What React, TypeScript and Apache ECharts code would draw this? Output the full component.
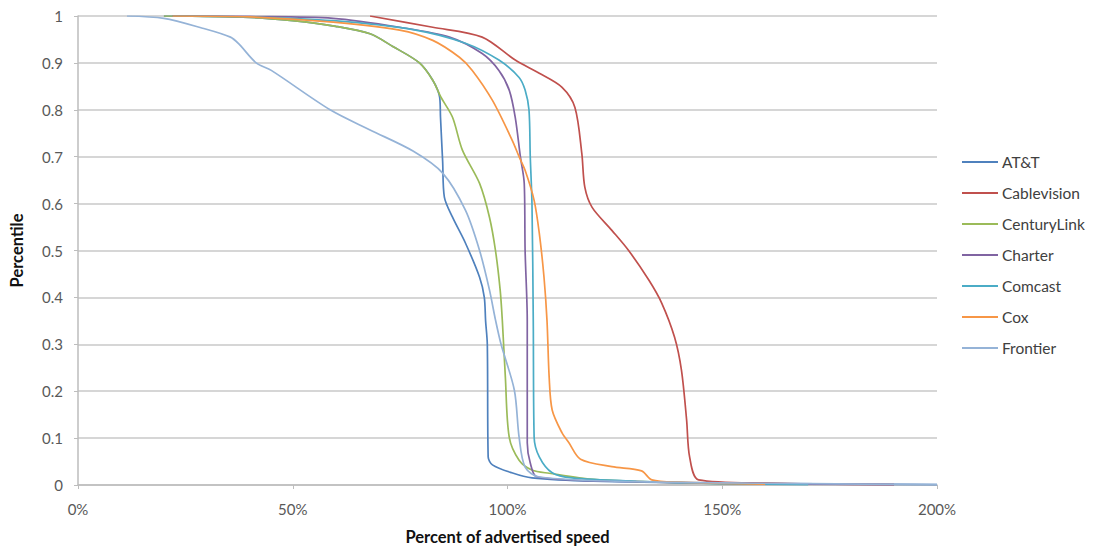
import React, { useEffect, useRef } from "react";
import * as echarts from "echarts";

const seriesNames = ["AT&T", "Cablevision", "CenturyLink", "Charter", "Comcast", "Cox", "Frontier"];
const seriesColors = ["#4F81BD", "#C0504D", "#9BBB59", "#8064A2", "#4BACC6", "#F79646", "#95B3D7"];

const xTicks = [0, 50, 100, 150, 200];

const att: number[][] = [
  [20, 1], [40, 0.997], [50, 0.99], [60, 0.978], [68, 0.962], [73.3, 0.935], [79.5, 0.9], [82.6, 0.863],
  [84.2, 0.827], [84.4, 0.784], [84.9, 0.69], [85.3, 0.614], [87.2, 0.571], [90.2, 0.516], [93.5, 0.443],
  [94.6, 0.4], [94.9, 0.35], [95.3, 0.3], [95.5, 0.06], [96.5, 0.043], [101, 0.026], [105.7, 0.015],
  [120, 0.008], [150, 0.004], [200, 0.001],
];

const cablevision: number[][] = [
  [68, 1], [82.6, 0.976], [94.1, 0.955], [101.8, 0.906], [107.4, 0.878], [112.7, 0.848], [115.7, 0.805],
  [117.3, 0.707], [118, 0.635], [119.7, 0.592], [124.3, 0.543], [128.2, 0.5], [132.9, 0.437],
  [135.9, 0.388], [138.9, 0.315], [140.5, 0.245], [141.7, 0.139], [142.4, 0.06], [144.5, 0.011],
  [160, 0.004], [190, 0.001],
];

const centuryLink: number[][] = [
  [20, 1], [40, 0.997], [50, 0.99], [60, 0.978], [68, 0.962], [73.3, 0.935], [79.5, 0.9], [82.6, 0.863],
  [84.5, 0.827], [87.2, 0.784], [89.5, 0.714], [93.5, 0.643], [95.8, 0.571], [97.2, 0.5], [98.3, 0.415],
  [98.8, 0.35], [99.5, 0.23], [100.4, 0.102], [102.7, 0.053], [105.7, 0.032], [109.7, 0.025],
  [120, 0.012], [140, 0.005], [160, 0.002],
];

const charter: number[][] = [
  [22, 1], [40, 0.999], [59.4, 0.995], [74.9, 0.976], [86.5, 0.955], [94.1, 0.92], [98, 0.884],
  [100.4, 0.842], [101.8, 0.784], [103, 0.7], [103.9, 0.643], [104.1, 0.5], [104.6, 0.35], [104.6, 0.09],
  [105.3, 0.047], [106.9, 0.017], [130, 0.007], [155, 0.003], [190, 0.001],
];

const comcast: number[][] = [
  [22, 1], [40, 0.998], [59.4, 0.99], [78.6, 0.97], [90.2, 0.942], [98, 0.906], [102.7, 0.869],
  [104.1, 0.842], [105, 0.8], [105.3, 0.7], [105.7, 0.6], [106, 0.35], [106.2, 0.102], [107.4, 0.06],
  [110.4, 0.026], [115, 0.015], [130, 0.008], [150, 0.003], [170, 0.001],
];

const cox: number[][] = [
  [22, 1], [40, 0.998], [59.4, 0.987], [74.9, 0.97], [82.6, 0.948], [88.8, 0.912], [91.8, 0.884],
  [96.5, 0.82], [101.1, 0.735], [102.7, 0.7], [104.1, 0.671], [106.2, 0.607], [107.4, 0.537],
  [108.5, 0.443], [109.2, 0.35], [109.7, 0.23], [110.4, 0.16], [112.7, 0.111], [114.3, 0.09],
  [117, 0.055], [124.3, 0.039], [131.2, 0.03], [133.6, 0.011], [140, 0.006], [160, 0.002],
];

const frontier: number[][] = [
  [11.4, 1], [20, 0.995], [29, 0.974], [35.5, 0.955], [37.5, 0.94], [41.5, 0.9], [45, 0.884],
  [58.7, 0.8], [68, 0.757], [78, 0.712], [84.9, 0.665], [90.2, 0.586], [93.5, 0.5], [95.8, 0.416],
  [97.2, 0.352], [98.5, 0.3], [101.6, 0.202], [102.7, 0.102], [104.1, 0.038], [107.4, 0.017],
  [130, 0.007], [170, 0.003], [200, 0.001],
];

const allData = [att, cablevision, centuryLink, charter, comcast, cox, frontier];

const FONT = "Lato, 'Open Sans', sans-serif";

export default function App() {
  const ref = useRef<HTMLDivElement>(null);
  useEffect(() => {
    if (!ref.current) return;
    const chart = echarts.init(ref.current, undefined, { renderer: "svg" });
    chart.setOption({
      animation: false,
      backgroundColor: "#ffffff",
      textStyle: { fontFamily: FONT },
      grid: { left: 74, right: 157, top: 16, bottom: 65, containLabel: false },
      legend: {
        orient: "vertical",
        left: 957,
        top: 148,
        icon: "rect",
        itemWidth: 36,
        itemHeight: 2,
        itemGap: 13,
        data: seriesNames,
        textStyle: { fontFamily: FONT, fontSize: 15.5, color: "#404040", lineHeight: 18, padding: [0, 0, 0, -1] },
      },
      xAxis: {
        type: "value",
        min: xTicks[0],
        max: xTicks[xTicks.length - 1],
        interval: 50,
        name: "Percent of advertised speed",
        nameLocation: "middle",
        nameGap: 43,
        nameTextStyle: { fontFamily: FONT, fontWeight: "bold", fontSize: 16.5, color: "#111" },
        axisLine: { lineStyle: { color: "#bdbdbd", width: 1.5 } },
        axisTick: { show: true, length: 4, lineStyle: { color: "#bdbdbd" } },
        axisLabel: { formatter: "{value}%", color: "#595959", fontSize: 15, margin: 16 },
        splitLine: { show: false },
      },
      yAxis: {
        type: "value",
        min: 0,
        max: 1,
        interval: 0.1,
        name: "Percentile",
        nameLocation: "middle",
        nameGap: 53,
        nameRotate: 90,
        nameTextStyle: { fontFamily: FONT, fontWeight: "bold", fontSize: 16.5, color: "#111" },
        axisLine: { show: true, lineStyle: { color: "#bdbdbd", width: 1.5 } },
        axisTick: { show: true, length: 4, lineStyle: { color: "#bdbdbd" } },
        axisLabel: {
          color: "#595959",
          fontSize: 15,
          margin: 15,
          formatter: (v: number) => (v === 0 || v === 1 ? String(v) : v.toFixed(1)),
        },
        splitLine: { show: true, lineStyle: { color: "#c8c8c8", width: 1.5 } },
      },
      series: seriesNames.map((name, i) => ({
        name,
        type: "line",
        data: allData[i],
        symbol: "none",
        smooth: 0.3,
        lineStyle: { color: seriesColors[i], width: 1.7 },
        itemStyle: { color: seriesColors[i] },
      })),
    });
    return () => chart.dispose();
  }, []);
  return (
    <div
      ref={ref}
      style={{ position: "fixed", left: 0, top: 0, width: 1094, height: 550, background: "#fff" }}
    />
  );
}
